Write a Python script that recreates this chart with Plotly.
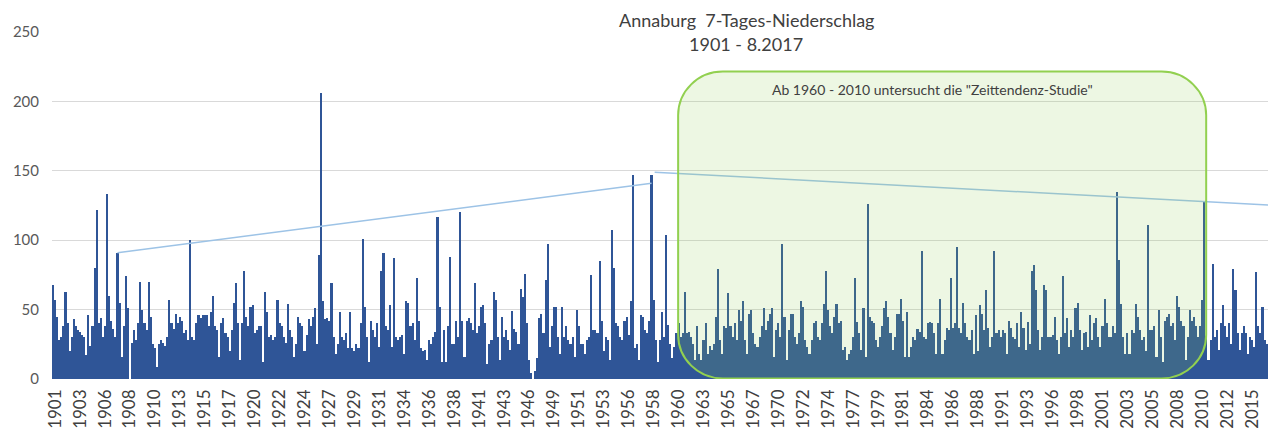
import plotly.graph_objects as go

# ---------------- data ----------------
TITLE = "Annaburg  7-Tages-Niederschlag"
SUBTITLE = "1901 - 8.2017"
BOX_TEXT = 'Ab 1960 - 2010 untersucht die "Zeittendenz-Studie"'

TICK_LABELS = [
    "1901", "1903", "1906", "1908", "1910", "1913", "1915", "1917", "1920", "1922",
    "1924", "1927", "1929", "1931", "1934", "1936", "1938", "1941", "1943", "1946",
    "1949", "1951", "1953", "1956", "1958", "1960", "1963", "1965", "1967", "1970",
    "1972", "1974", "1977", "1979", "1981", "1984", "1986", "1988", "1991", "1993",
    "1996", "1998", "2001", "2003", "2005", "2008", "2010", "2012", "2015",
]

# 7-day precipitation sums (mm); each value = highest 7-day sum within ~10 weeks,
# read off the picture from left to right
PRECIP_1901_1919 = [
    68, 57, 45, 28, 30, 38, 63, 40, 20, 30, 43, 38,
    35, 34, 32, 30, 17, 46, 24, 38, 80, 122, 40, 44,
    30, 38, 133, 60, 42, 36, 30, 91, 55, 16, 38, 74,
    51, 0, 26, 35, 28, 40, 70, 50, 40, 35, 70, 45,
    25, 22, 9, 25, 28, 26, 24, 30, 57, 40, 36, 47,
    40, 45, 42, 33, 35, 28, 100, 30, 28, 40, 46, 44,
    46, 46, 46, 38, 48, 60, 38, 35, 16, 40, 44, 33,
    30, 20, 35, 55, 69, 40, 14, 40, 78, 45, 38, 52,
]
PRECIP_1919_1938 = [
    53, 33, 35, 38, 38, 12, 63, 48, 30, 32, 28, 30,
    57, 40, 38, 30, 26, 54, 35, 30, 16, 25, 45, 40,
    38, 20, 32, 43, 38, 45, 51, 25, 89, 206, 56, 43,
    44, 42, 69, 30, 18, 25, 48, 30, 28, 33, 22, 48,
    22, 20, 25, 22, 40, 101, 52, 30, 12, 42, 35, 30,
    40, 23, 78, 91, 38, 35, 53, 23, 87, 30, 28, 30,
    32, 18, 56, 55, 38, 40, 28, 73, 42, 22, 20, 21,
    14, 28, 25, 30, 34, 117, 52, 12, 35, 12, 38, 88,
]
PRECIP_1938_1958 = [
    25, 25, 42, 30, 120, 42, 16, 42, 44, 40, 35, 69,
    33, 38, 52, 53, 40, 11, 25, 28, 63, 57, 30, 14,
    45, 30, 35, 28, 21, 49, 36, 34, 25, 65, 59, 76,
    40, 14, 4, 0, 6, 15, 44, 47, 33, 71, 97, 23,
    38, 52, 52, 30, 18, 52, 30, 38, 28, 25, 30, 16,
    50, 38, 25, 25, 18, 28, 30, 75, 35, 35, 33, 85,
    42, 20, 30, 28, 14, 107, 80, 40, 38, 30, 28, 42,
    45, 32, 56, 147, 22, 25, 14, 46, 45, 35, 33, 42,
]
PRECIP_1958_1977 = [
    147, 57, 28, 12, 28, 48, 30, 104, 39, 25, 15, 23,
    33, 40, 30, 33, 63, 33, 34, 30, 25, 14, 38, 18,
    14, 28, 40, 18, 24, 21, 25, 45, 79, 28, 18, 38,
    37, 62, 38, 30, 40, 28, 50, 42, 56, 28, 18, 47,
    50, 33, 25, 23, 30, 38, 51, 35, 42, 47, 51, 16,
    35, 40, 30, 97, 45, 14, 35, 47, 47, 30, 25, 33,
    56, 52, 28, 23, 18, 28, 40, 42, 30, 28, 40, 54,
    78, 50, 38, 33, 45, 54, 40, 42, 21, 23, 14, 18,
]
PRECIP_1977_1996 = [
    21, 30, 73, 41, 33, 21, 51, 16, 126, 45, 42, 40,
    28, 23, 30, 38, 51, 56, 45, 33, 21, 30, 47, 47,
    58, 42, 16, 48, 16, 23, 30, 28, 36, 34, 92, 30,
    29, 40, 41, 40, 33, 18, 40, 58, 18, 28, 37, 35,
    73, 37, 40, 95, 37, 33, 55, 40, 30, 28, 35, 18,
    46, 20, 53, 47, 35, 64, 37, 23, 30, 92, 33, 35,
    30, 35, 33, 18, 42, 37, 30, 29, 40, 23, 48, 37,
    21, 41, 25, 78, 82, 64, 35, 21, 30, 68, 64, 30,
]
PRECIP_1996_2017 = [
    30, 32, 45, 28, 18, 30, 74, 33, 44, 23, 35, 30,
    51, 55, 35, 21, 33, 34, 23, 46, 28, 40, 44, 30,
    23, 38, 58, 40, 30, 30, 38, 33, 135, 86, 54, 30,
    18, 33, 18, 35, 33, 54, 45, 35, 28, 30, 20, 111,
    35, 35, 38, 16, 50, 30, 12, 42, 45, 47, 38, 40,
    28, 60, 52, 42, 38, 14, 30, 50, 42, 45, 38, 30,
    38, 57, 128, 30, 14, 28, 83, 30, 35, 21, 40, 53,
    38, 30, 40, 25, 79, 64, 33, 21, 33, 38, 33, 18,
    30, 28, 23, 77, 38, 33, 52, 28, 25, 30, 25, 40,
    40,
]

# hand-drawn trend lines (position index, mm)
TREND_EARLY_X = [31, 288]
TREND_EARLY_Y = [91, 141]
TREND_LATE_X = [289.5, 588.5]
TREND_LATE_Y = [149, 125]

# ---------------- figure ----------------
values = (PRECIP_1901_1919 + PRECIP_1919_1938 + PRECIP_1938_1958
          + PRECIP_1958_1977 + PRECIP_1977_1996 + PRECIP_1996_2017)
n = len(values)
xs = list(range(n))

SAMPLES_PER_LABEL = 12
LABEL_OFFSET = 1
tickvals = [LABEL_OFFSET + SAMPLES_PER_LABEL * k for k in range(len(TICK_LABELS))]

BAR_COLOR = "#2f5597"
FONT = "Lato, 'Open Sans', sans-serif"

fig = go.Figure()
fig.add_trace(go.Bar(x=xs, y=values, marker=dict(color=BAR_COLOR, line=dict(width=0)),
                     hoverinfo="skip"))
fig.add_trace(go.Scatter(x=TREND_EARLY_X, y=TREND_EARLY_Y, mode="lines",
                         line=dict(color="#9dc3e6", width=1.5), hoverinfo="skip"))
fig.add_trace(go.Scatter(x=TREND_LATE_X, y=TREND_LATE_Y, mode="lines",
                         line=dict(color="#9dc3e6", width=1.5), hoverinfo="skip"))

# rounded study-period box (1960 - 2010)
x0, x1 = 300.8, 554.9
yb, yt = 0.4, 221.5
rx, ry = 21.5, 31.5
k = 0.5523
path = (
    f"M {x0+rx},{yt} L {x1-rx},{yt} "
    f"C {x1-rx+k*rx},{yt} {x1},{yt-ry+k*ry} {x1},{yt-ry} "
    f"L {x1},{yb+ry} "
    f"C {x1},{yb+ry-k*ry} {x1-rx+k*rx},{yb} {x1-rx},{yb} "
    f"L {x0+rx},{yb} "
    f"C {x0+rx-k*rx},{yb} {x0},{yb+ry-k*ry} {x0},{yb+ry} "
    f"L {x0},{yt-ry} "
    f"C {x0},{yt-ry+k*ry} {x0+rx-k*rx},{yt} {x0+rx},{yt} Z"
)
fig.add_shape(type="path", path=path, xref="x", yref="y",
              fillcolor="rgba(146,208,80,0.16)",
              line=dict(color="#92d050", width=2), layer="above")

fig.add_annotation(x=423, y=208.5, xref="x", yref="y", text=BOX_TEXT,
                   showarrow=False, font=dict(family=FONT, size=14, color="#404040"))
fig.add_annotation(x=(746 - 52) / 1224, y=(379 - 20) / 347, xref="paper", yref="paper",
                   text=TITLE, showarrow=False, yanchor="middle",
                   font=dict(family=FONT, size=18, color="#404040"))
fig.add_annotation(x=(746 - 52) / 1224, y=(379 - 44) / 347, xref="paper", yref="paper",
                   text=SUBTITLE, showarrow=False, yanchor="middle",
                   font=dict(family=FONT, size=18, color="#404040"))

# the page body adds an 8px offset, margins compensate for it
fig.update_layout(
    width=1276, height=436,
    margin=dict(l=44, r=8, t=24, b=65),
    paper_bgcolor="white", plot_bgcolor="white",
    showlegend=False, bargap=0,
    font=dict(family=FONT, color="#595959"),
)
fig.update_xaxes(range=[-0.5, n - 0.5], tickmode="array", tickvals=tickvals,
                 ticktext=TICK_LABELS, tickangle=-90, showgrid=False, zeroline=False,
                 showline=False, ticks="", ticklabelstandoff=6, automargin=False,
                 tickfont=dict(family=FONT, size=17, color="#404040"))
fig.update_yaxes(range=[0, 250], dtick=50, showgrid=True, gridcolor="#d9d9d9",
                 gridwidth=1, zeroline=False, showline=False, ticks="",
                 ticklabelstandoff=12, automargin=False,
                 tickfont=dict(family=FONT, size=15, color="#595959"))

fig.write_html("out.html")
